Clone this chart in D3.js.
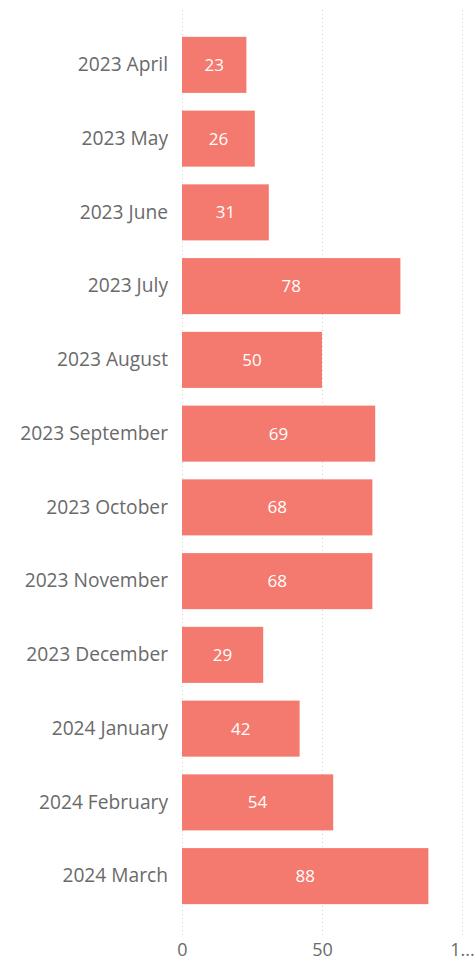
<!DOCTYPE html>
<html>
<head>
<meta charset="utf-8">
<script src="https://cdn.jsdelivr.net/npm/d3@7/dist/d3.min.js"></script>
<style>
  html, body { margin: 0; padding: 0; background: #fff; }
  svg { display: block; }
</style>
</head>
<body>
<svg id="chart" width="475" height="964"></svg>
<script>
const categories = ["2023 April","2023 May","2023 June","2023 July","2023 August","2023 September","2023 October","2023 November","2023 December","2024 January","2024 February","2024 March"];
const values = [23, 26, 31, 78, 50, 69, 68, 68, 29, 42, 54, 88];
const tickValues = [0, 50, 100];
const tickLabels = ["0", "50", "1..."];

const svg = d3.select("#chart");
const font = "'Open Sans', 'Noto Sans', sans-serif";

const x = d3.scaleLinear().domain([0, 100]).range([182, 462]);
const y = d3.scaleBand().domain(categories).range([28, 913]).paddingInner(0.24).paddingOuter(0.12);

// gridlines
svg.append("g").selectAll("line").data(tickValues).join("line")
  .attr("x1", d => x(d) + 0.5).attr("x2", d => x(d) + 0.5)
  .attr("y1", 10).attr("y2", 935)
  .attr("stroke", "#d0d0d0").attr("stroke-width", 1).attr("stroke-dasharray", "1,3");

// bars
svg.append("g").selectAll("rect").data(values).join("rect")
  .attr("x", x(0))
  .attr("y", (d, i) => y(categories[i]))
  .attr("width", d => x(d) - x(0))
  .attr("height", y.bandwidth())
  .attr("fill", "#F47A6F");

// value labels
svg.append("g").selectAll("text").data(values).join("text")
  .attr("x", d => (x(0) + x(d)) / 2)
  .attr("y", (d, i) => y(categories[i]) + y.bandwidth() / 2)
  .attr("dy", "0.35em")
  .attr("text-anchor", "middle")
  .attr("fill", "#fff")
  .attr("font-family", font).attr("font-size", 17)
  .text(d => d);

// y axis labels
const yAxis = d3.axisLeft(y).tickSize(0).tickPadding(14);
const gy = svg.append("g").attr("transform", `translate(${x(0)},0)`).call(yAxis);
gy.select(".domain").remove();
gy.selectAll("text").attr("font-family", font).attr("font-size", 19.2).attr("fill", "#6a6a6a");

// x axis labels
const xAxis = d3.axisBottom(x).tickValues(tickValues).tickSize(0).tickPadding(0).tickFormat((d, i) => tickLabels[i]);
const gx = svg.append("g").attr("transform", `translate(0,943)`).call(xAxis);
gx.select(".domain").remove();
gx.selectAll("text").attr("font-family", font).attr("font-size", 18).attr("fill", "#6a6a6a");
</script>
</body>
</html>
